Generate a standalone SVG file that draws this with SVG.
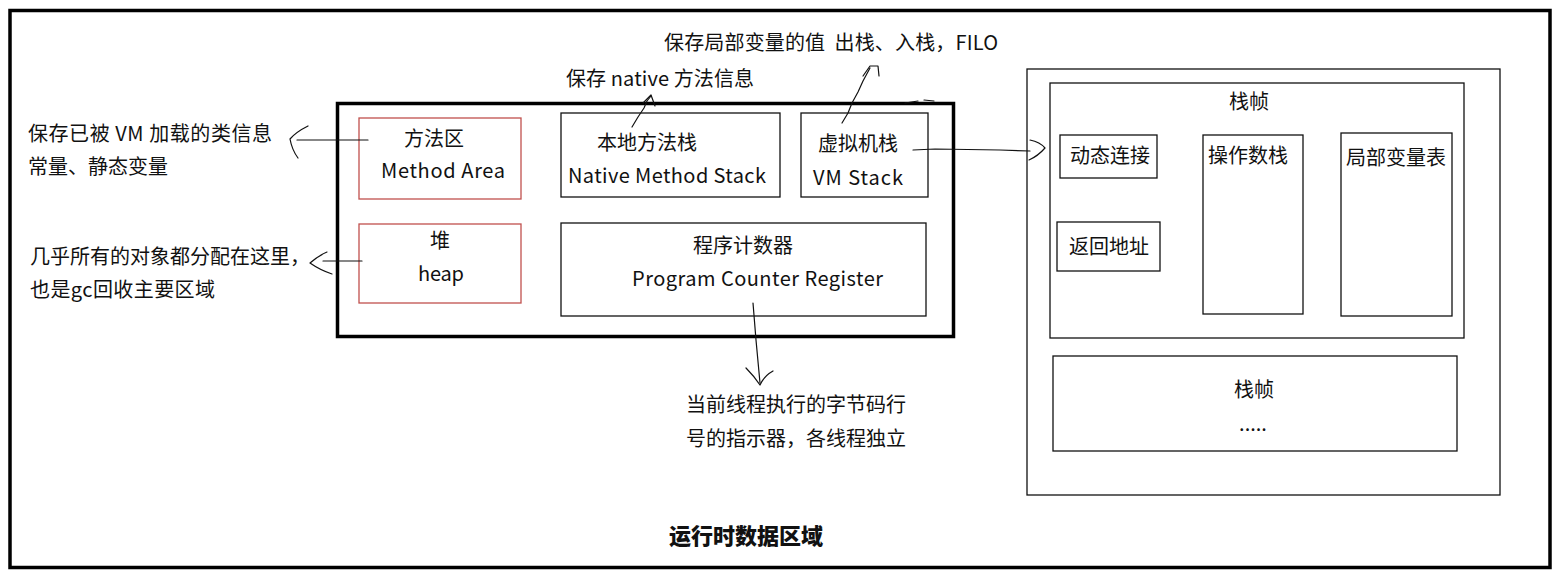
<svg xmlns="http://www.w3.org/2000/svg" width="1558" height="576" viewBox="0 0 1558 576">
<style>
text{font-family:"Noto Sans CJK SC","Noto Sans",sans-serif;font-size:20px;fill:#111;}
.b{fill:#fff;stroke:#111;stroke-width:1.3;}
.r{fill:#fff;stroke:#c0504d;stroke-width:1.3;}
.thick{fill:none;stroke:#000;stroke-width:3.5;}
.c{fill:none;stroke:#111;stroke-width:1.2;stroke-linejoin:round;stroke-linecap:round;}
.m{text-anchor:middle;}
.bold{font-weight:900;font-size:22px;}
</style>
<rect width="1558" height="576" fill="#fff"/>
<rect id="frame" class="thick" x="10" y="10.5" width="1540" height="557"/>

<g id="runtime-area">
<rect class="thick" x="337.5" y="103.5" width="616" height="233" stroke-width="3"/>
<path class="c" d="M905,103 L918,101 M924,100 L934,101"/>
</g>

<g id="method-area">
<rect class="r" x="359" y="118" width="162" height="81"/>
<text class="m" x="434" y="146">方法区</text>
<text x="381" y="178" textLength="124" lengthAdjust="spacing">Method Area</text>
</g>

<g id="native-stack">
<rect class="b" x="561" y="113" width="219" height="84"/>
<text class="m" x="647" y="150">本地方法栈</text>
<text x="568" y="183" textLength="198" lengthAdjust="spacing">Native Method Stack</text>
</g>

<g id="vm-stack">
<rect class="b" x="801" y="113" width="127" height="84"/>
<text class="m" x="858" y="151">虚拟机栈</text>
<text x="813" y="185" textLength="90" lengthAdjust="spacing">VM Stack</text>
</g>

<g id="heap">
<rect class="r" x="359" y="224" width="162" height="79"/>
<text class="m" x="440" y="248">堆</text>
<text x="418" y="281" textLength="46" lengthAdjust="spacing">heap</text>
</g>

<g id="pc-register">
<rect class="b" x="561" y="223" width="365" height="93"/>
<text class="m" x="743" y="253">程序计数器</text>
<text x="632" y="286" textLength="251" lengthAdjust="spacing">Program Counter Register</text>
</g>

<g id="note-method">
<text x="28" y="141" textLength="244" lengthAdjust="spacing">保存已被 VM 加载的类信息</text>
<text x="28" y="174">常量、静态变量</text>
</g>
<g id="note-heap">
<text x="30" y="264">几乎所有的对象都分配在这里，</text>
<text x="30" y="297" textLength="185" lengthAdjust="spacing">也是gc回收主要区域</text>
</g>
<g id="note-native">
<text x="566" y="86" textLength="188" lengthAdjust="spacing">保存 native 方法信息</text>
</g>
<g id="note-vm">
<text x="664" y="50" xml:space="preserve" textLength="334" lengthAdjust="spacing">保存局部变量的值  出栈、入栈，FILO</text>
</g>
<g id="note-pc">
<text x="686" y="412">当前线程执行的字节码行</text>
<text x="686" y="446">号的指示器，各线程独立</text>
</g>
<g id="title">
<text class="m bold" x="746" y="544">运行时数据区域</text>
</g>

<g id="stack-panel">
<rect class="b" x="1027" y="69" width="473" height="426" stroke-width="1.5"/>
</g>
<g id="frame1">
<rect class="b" x="1050" y="83" width="414" height="255"/>
<text class="m" x="1249" y="109">栈帧</text>
</g>
<g id="dynamic-link">
<rect class="b" x="1060" y="135" width="97" height="43"/>
<text class="m" x="1110" y="163">动态连接</text>
</g>
<g id="operand-stack">
<rect class="b" x="1203" y="135" width="100" height="179"/>
<text x="1208" y="163">操作数栈</text>
</g>
<g id="local-vars">
<rect class="b" x="1341" y="133" width="111" height="183"/>
<text x="1346" y="165">局部变量表</text>
</g>
<g id="return-addr">
<rect class="b" x="1057" y="222" width="103" height="49"/>
<text class="m" x="1109" y="254">返回地址</text>
</g>
<g id="frame2">
<rect class="b" x="1053" y="356" width="404" height="95"/>
<text class="m" x="1254" y="397">栈帧</text>
<text class="m" x="1253" y="431">.....</text>
</g>

<g id="connectors">
<path class="c" d="M368,140 L297,140"/>
<path class="c" d="M308,126 Q296,132 290,139 Q292,150 298,158"/>
<path class="c" d="M362,261 L323,261"/>
<path class="c" d="M327,252 Q318,256 310,263 Q320,270 332,274"/>
<path class="c" d="M632,127 L638,117 L644,108 L647,101 L651,96"/>
<path class="c" d="M643,103 L651,95 L655,106"/>
<path class="c" d="M842,123 L848,113 L852,103 L858,92 L863,81 L870,68"/>
<path class="c" d="M863,76 L870,66 L878,66 L879,76"/>
<path class="c" d="M913,150 L935,149 L1000,150 L1030,151"/>
<path class="c" d="M1030,140 Q1040,142 1045,148 Q1038,156 1029,160"/>
<path class="c" d="M753,303 L756,340 L760,383"/>
<path class="c" d="M746,368 Q754,376 760,385 Q764,376 773,371"/>
</g>
</svg>
